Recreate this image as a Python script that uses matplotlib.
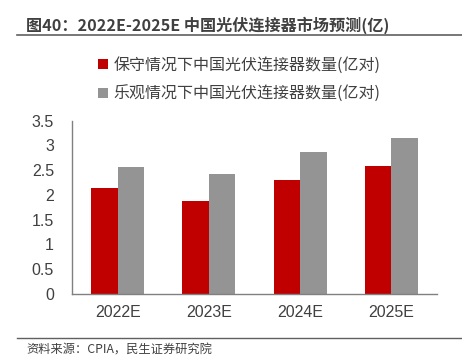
import matplotlib
matplotlib.use("Agg")
import matplotlib.pyplot as plt
import numpy as np
from matplotlib.lines import Line2D

plt.rcParams['font.family'] = ['Noto Sans CJK SC', 'DejaVu Sans']

categories = ["2022E", "2023E", "2024E", "2025E"]
conservative = [2.15, 1.87, 2.30, 2.58]
optimistic = [2.57, 2.43, 2.86, 3.15]
series_names = ["保守情况下中国光伏连接器数量(亿对)", "乐观情况下中国光伏连接器数量(亿对)"]
yticks = [0, 0.5, 1, 1.5, 2, 2.5, 3, 3.5]
ytick_labels = ["0", "0.5", "1", "1.5", "2", "2.5", "3", "3.5"]
title = "图40：2022E-2025E 中国光伏连接器市场预测(亿)"
source = "资料来源：CPIA，民生证券研究院"

fig = plt.figure(figsize=(4.62, 3.58), dpi=100)
ax = fig.add_axes([72/462, 1-294/358, (437-72)/462, (294-120.7)/358])

x = np.arange(len(categories))
w = 0.29
ax.bar(x - w/2, conservative, w, color="#C00000", label=series_names[0])
ax.bar(x + w/2, optimistic, w, color="#949494", label=series_names[1])

ax.set_xlim(-0.5, len(categories) - 0.5)
ax.set_ylim(0, 3.5)
ax.set_yticks(yticks)
ax.set_yticklabels(ytick_labels)
ax.set_xticks(x)
ax.set_xticklabels(categories)
for s in ["top", "right"]:
    ax.spines[s].set_visible(False)
for s in ["left", "bottom"]:
    ax.spines[s].set_color("#808080")
    ax.spines[s].set_linewidth(1.0)
ax.tick_params(axis="both", length=0, labelsize=11.5, colors="#404040")
ax.tick_params(axis="y", pad=13)
ax.tick_params(axis="x", pad=8)
for lbl in ax.get_yticklabels() + ax.get_xticklabels():
    lbl.set_fontfamily(['Liberation Sans', 'DejaVu Sans'])

leg = fig.legend(loc="upper left", bbox_to_anchor=(84/462, 1-42/358), frameon=False,
                 fontsize=11.5, handlelength=0.6, handleheight=0.6, handletextpad=0.35,
                 labelspacing=0.75, labelcolor="#404040")

fig.text(26/462, 1-25/358, title, fontsize=11.6, fontweight="bold", color="#404040",
         va="center", ha="left")
fig.add_artist(Line2D([17/462, 1.0], [1-34.5/358, 1-34.5/358], color="#606060", lw=1.2))
fig.add_artist(Line2D([17/462, 1.0], [1-337.7/358, 1-337.7/358], color="#606060", lw=1.0))
fig.text(26/462, 1-350/358, source, fontsize=8.8, color="#404040", va="center", ha="left")

fig.savefig("out.png", dpi=100)
